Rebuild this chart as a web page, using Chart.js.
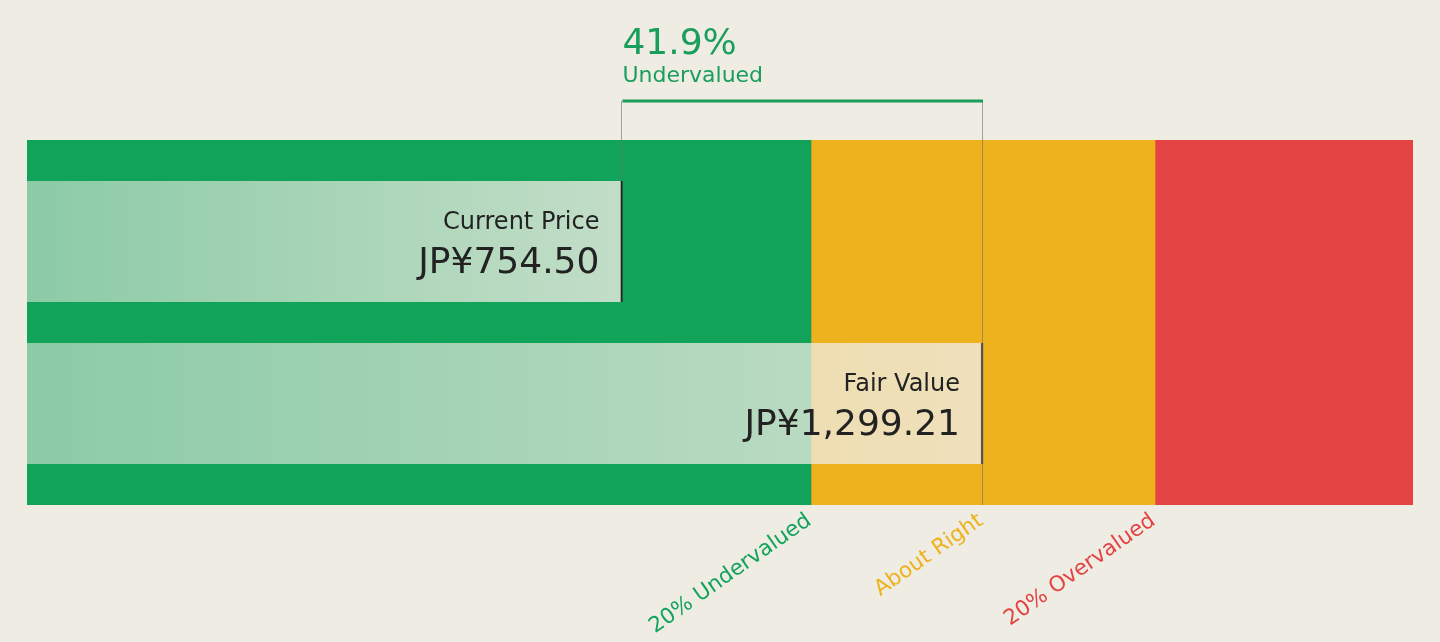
<!DOCTYPE html>
<html>
<head>
<meta charset="utf-8">
<script src="https://cdn.jsdelivr.net/npm/chart.js@4.4.1/dist/chart.umd.min.js"></script>
<style>
  html, body { margin: 0; padding: 0; background: #EFECE3; }
  #wrap { width: 1440px; height: 642px; }
</style>
</head>
<body>
<div id="wrap"><canvas id="myChart" width="1440" height="642"></canvas></div>
<script>
// values
const currency = 'JP¥';
const barLabels = ['Current Price', 'Fair Value'];
const barValues = [754.50, 1299.21];
const bandLabels = ['20% Undervalued', 'About Right', '20% Overvalued'];
const bandColors = ['#12A35A', '#EDB21E', '#E34343'];
const fairValue = barValues[1];
const axisMin = -145;
const bandEdges = [axisMin, fairValue * 0.8, fairValue * 1.2, fairValue * 1.5];

const bg = '239,236,227';
const dark = '#222222';
const green = '#1A9E5C';

const fmt = v => currency + v.toLocaleString('en-US', { minimumFractionDigits: 2, maximumFractionDigits: 2 });
const discount = (1 - barValues[0] / barValues[1]) * 100;

// light overlay for the two value bars, lighter towards the bar end
function barFill(context) {
  const chart = context.chart;
  const xs = chart.scales.x;
  if (!chart.chartArea || !xs || !context.raw) return 'rgba(' + bg + ',0.65)';
  const x0 = xs.getPixelForValue(context.raw.x[0]);
  const x1 = xs.getPixelForValue(context.raw.x[1]);
  const g = chart.ctx.createLinearGradient(x0, 0, x1, 0);
  g.addColorStop(0, 'rgba(' + bg + ',0.55)');
  g.addColorStop(1, 'rgba(' + bg + ',0.8)');
  return g;
}

const datasets = [{
  label: 'values',
  yAxisID: 'y',
  data: barValues.map((v, i) => ({ x: [axisMin, v], y: i })),
  backgroundColor: barFill,
  borderColor: dark,
  borderWidth: { top: 0, right: 2, bottom: 0, left: 0 },
  borderSkipped: false,
  grouped: false,
  barThickness: 121
}];
bandLabels.forEach((name, i) => {
  datasets.push({
    label: name,
    yAxisID: 'yBand',
    data: [[bandEdges[i], bandEdges[i + 1]]],
    backgroundColor: bandColors[i],
    borderWidth: 0,
    grouped: false,
    barPercentage: 1,
    categoryPercentage: 1
  });
});

const overlay = {
  id: 'overlay',
  afterDatasetsDraw(chart) {
    const ctx = chart.ctx;
    const xs = chart.scales.x;
    const area = chart.chartArea;
    const bars = chart.getDatasetMeta(0).data;
    const xCur = xs.getPixelForValue(barValues[0]);
    const xFair = xs.getPixelForValue(barValues[1]);
    const bracketY = area.top - 39;
    ctx.save();

    // thin guide lines
    ctx.strokeStyle = 'rgba(110,110,110,0.6)';
    ctx.lineWidth = 1;
    ctx.beginPath();
    ctx.moveTo(Math.round(xCur) - 0.5, bracketY);
    ctx.lineTo(Math.round(xCur) - 0.5, bars[0].y - bars[0].height / 2);
    ctx.moveTo(Math.round(xFair) - 0.5, bracketY);
    ctx.lineTo(Math.round(xFair) - 0.5, area.bottom);
    ctx.stroke();

    // bracket
    ctx.strokeStyle = green;
    ctx.lineWidth = 3;
    ctx.beginPath();
    ctx.moveTo(xCur, bracketY);
    ctx.lineTo(xFair, bracketY);
    ctx.stroke();

    ctx.fillStyle = green;
    ctx.textAlign = 'left';
    ctx.textBaseline = 'alphabetic';
    ctx.font = '36px "DejaVu Sans"';
    ctx.fillText(discount.toFixed(1) + '%', xCur, 54);
    ctx.font = '22px "DejaVu Sans"';
    ctx.fillText(discount >= 0 ? 'Undervalued' : 'Overvalued', xCur, 82);

    // labels inside the bars
    ctx.fillStyle = dark;
    ctx.textAlign = 'right';
    bars.forEach((bar, i) => {
      const top = bar.y - bar.height / 2;
      const right = xs.getPixelForValue(barValues[i]) - 23;
      ctx.font = '24px "DejaVu Sans"';
      ctx.fillText(barLabels[i], right, top + 48);
      ctx.font = '36px "DejaVu Sans"';
      ctx.fillText(fmt(barValues[i]), right, top + 92);
    });

    // rotated band labels under the chart
    ctx.font = '21.5px "DejaVu Sans"';
    ctx.textAlign = 'right';
    ctx.textBaseline = 'top';
    const ends = [bandEdges[1], fairValue, bandEdges[2]];
    bandLabels.forEach((name, i) => {
      ctx.save();
      ctx.translate(xs.getPixelForValue(ends[i]) - 8, area.bottom + 5);
      ctx.rotate(-35 * Math.PI / 180);
      ctx.fillStyle = bandColors[i];
      ctx.fillText(name, 0, 0);
      ctx.restore();
    });
    ctx.restore();
  }
};

new Chart(document.getElementById('myChart'), {
  type: 'bar',
  data: { datasets },
  options: {
    indexAxis: 'y',
    responsive: false,
    animation: false,
    devicePixelRatio: 1,
    layout: { padding: { left: 27, right: 27, top: 140, bottom: 137 } },
    scales: {
      x: { type: 'linear', min: axisMin, max: bandEdges[3], display: false },
      y: { type: 'linear', min: -0.6265, max: 1.6265, reverse: true, offset: false, display: false },
      yBand: { type: 'category', labels: ['band'], display: false }
    },
    plugins: { legend: { display: false }, tooltip: { enabled: false } }
  },
  plugins: [overlay]
});
</script>
</body>
</html>
